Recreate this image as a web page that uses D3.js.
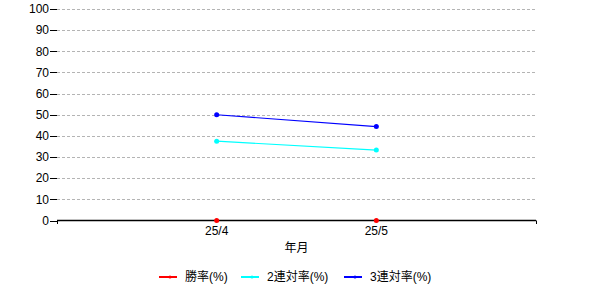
<!DOCTYPE html>
<html>
<head>
<meta charset="utf-8">
<script src="https://d3js.org/d3.v7.min.js"></script>
<style>
  body { margin: 0; background: #fff; }
  text { font-family: "Liberation Sans", "Noto Sans CJK JP", sans-serif; font-size: 12px; fill: #000; }
</style>
</head>
<body>
<div id="chart"></div>
<script>
// data
var months = ["25/4", "25/5"];
var winRate = [0, 0];
var top2Rate = [37.5, 33.3];
var top3Rate = [50, 44.4];
var yTicks = [0, 10, 20, 30, 40, 50, 60, 70, 80, 90, 100];
var seriesNames = ["勝率(%)", "2連対率(%)", "3連対率(%)"];
var seriesColors = ["#ff0000", "#00ffff", "#0000ff"];

var width = 600, height = 300;
var plotLeft = 57, plotRight = 536, plotTop = 9, plotBottom = 220.5;

var svg = d3.select("#chart").append("svg")
  .attr("width", width)
  .attr("height", height);

var x = d3.scaleLinear().domain([0, months.length + 1]).range([plotLeft, plotRight]);
var y = d3.scaleLinear().domain([0, 100]).range([plotBottom, plotTop]);

// grid lines
svg.append("g")
  .selectAll("line")
  .data(yTicks.filter(function(d) { return d > 0; }))
  .enter().append("line")
    .attr("x1", plotLeft)
    .attr("x2", plotRight)
    .attr("y1", function(d) { return Math.round(y(d)) + 0.5; })
    .attr("y2", function(d) { return Math.round(y(d)) + 0.5; })
    .attr("stroke", "#b4b4b4")
    .attr("stroke-dasharray", "3,2");

// y axis: ticks and labels only
var yAxis = svg.append("g");
yAxis.selectAll("line")
  .data(yTicks)
  .enter().append("line")
    .attr("x1", plotLeft - 7)
    .attr("x2", plotLeft)
    .attr("y1", function(d) { return Math.round(y(d)) + 0.5; })
    .attr("y2", function(d) { return Math.round(y(d)) + 0.5; })
    .attr("stroke", "#000");
yAxis.selectAll("text")
  .data(yTicks)
  .enter().append("text")
    .attr("x", plotLeft - 8)
    .attr("y", function(d) { return y(d); })
    .attr("dy", "0.35em")
    .attr("text-anchor", "end")
    .text(function(d) { return d; });

// x axis
svg.append("line")
  .attr("x1", plotLeft).attr("x2", plotRight)
  .attr("y1", plotBottom).attr("y2", plotBottom)
  .attr("stroke", "#000").attr("stroke-width", 1.3);
svg.selectAll(".endtick")
  .data([0, months.length + 1])
  .enter().append("line")
    .attr("x1", function(d) { return Math.round(x(d)) + 0.5; })
    .attr("x2", function(d) { return Math.round(x(d)) + 0.5; })
    .attr("y1", plotBottom).attr("y2", plotBottom + 3.5)
    .attr("stroke", "#000");
svg.selectAll(".xlabel")
  .data(months)
  .enter().append("text")
    .attr("x", function(d, i) { return x(i + 1); })
    .attr("y", 235)
    .attr("text-anchor", "middle")
    .text(function(d) { return d; });
svg.append("text")
  .attr("x", (plotLeft + plotRight) / 2)
  .attr("y", 252)
  .attr("text-anchor", "middle")
  .text("年月");

// series
var series = [winRate, top2Rate, top3Rate];
var line = d3.line()
  .x(function(d, i) { return x(i + 1); })
  .y(function(d) { return y(d); });

series.forEach(function(vals, s) {
  if (s === 0) return;
  svg.append("path")
    .datum(vals)
    .attr("d", line)
    .attr("fill", "none")
    .attr("stroke", seriesColors[s])
    .attr("stroke-width", 1.2);
});
series.forEach(function(vals, s) {
  svg.selectAll(".pt" + s)
    .data(vals)
    .enter().append("circle")
      .attr("cx", function(d, i) { return x(i + 1); })
      .attr("cy", function(d) { return y(d); })
      .attr("r", 2.5)
      .attr("fill", seriesColors[s]);
});

// legend
var legendX = [159, 241, 344];
var legend = svg.selectAll(".legend")
  .data(seriesNames)
  .enter().append("g")
    .attr("transform", function(d, i) { return "translate(" + legendX[i] + ",277)"; });
legend.append("line")
  .attr("x1", 0).attr("x2", 18)
  .attr("stroke", function(d, i) { return seriesColors[i]; })
  .attr("stroke-width", 2);
legend.append("circle")
  .attr("cx", 11).attr("r", 1.5)
  .attr("fill", function(d, i) { return seriesColors[i]; });
legend.append("text")
  .attr("x", 26)
  .attr("dy", "0.35em")
  .text(function(d) { return d; });
</script>
</body>
</html>
